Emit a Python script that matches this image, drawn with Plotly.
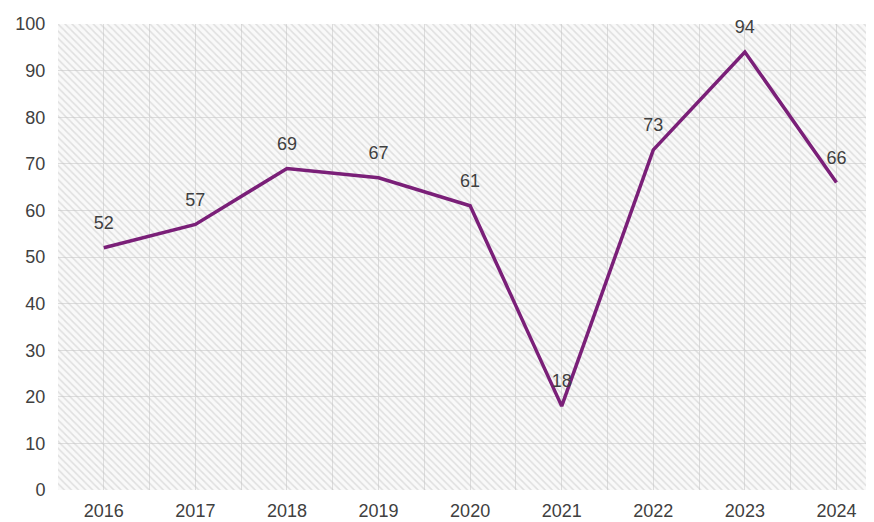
import plotly.graph_objects as go

years = ["2016", "2017", "2018", "2019", "2020", "2021", "2022", "2023", "2024"]
values = [52, 57, 69, 67, 61, 18, 73, 94, 66]
y_ticks = [0, 10, 20, 30, 40, 50, 60, 70, 80, 90, 100]

idx = list(range(len(years)))
x_lo, x_hi = -0.5, len(years) - 0.5
y_lo, y_hi = y_ticks[0], y_ticks[-1]

fig = go.Figure()

# hatched plot-area background (transparent between stripes so gridlines show)
fig.add_trace(go.Scatter(
    x=[x_lo, x_hi, x_hi, x_lo, x_lo], y=[y_lo, y_lo, y_hi, y_hi, y_lo],
    fill="toself", mode="none", hoverinfo="skip", showlegend=False,
    fillcolor="rgba(0,0,0,0)",
    fillpattern=dict(shape="\\", size=5, solidity=0.3,
                     fgcolor="#c6c6c6", fillmode="overlay"),
))

fig.add_trace(go.Scatter(
    x=idx, y=values, mode="lines+markers+text",
    line=dict(color="#7a1f78", width=3.5),
    marker=dict(size=21, opacity=0, color="#7a1f78"),
    text=[str(v) for v in values], textposition="top center",
    textfont=dict(family="Liberation Sans, Arial", size=18, color="#404040"),
    showlegend=False, cliponaxis=False, hoverinfo="x+y",
))

fig.update_layout(
    width=866, height=514,
    margin=dict(l=50, r=0, t=16, b=32),
    paper_bgcolor="white", plot_bgcolor="#f9f9f9",
    font=dict(family="Liberation Sans, Arial", size=18, color="#404040"),
    xaxis=dict(
        range=[-0.5, 8.41], tickmode="array", tickvals=idx, ticktext=years,
        showgrid=True, gridcolor="#dcdcdc", gridwidth=1,
        minor=dict(tickmode="array", tickvals=[i - 0.5 for i in range(10)],
                   showgrid=True, gridcolor="#dcdcdc", gridwidth=1, ticks=""),
        zeroline=False, showline=False, ticks="outside", ticklen=4, tickcolor="white",
        tickfont=dict(size=18, color="#404040"),
    ),
    yaxis=dict(
        range=[0, 100], tickmode="array", tickvals=y_ticks,
        showgrid=True, gridcolor="#dcdcdc", gridwidth=1,
        zeroline=False, showline=False, ticks="outside", ticklen=8, tickcolor="white",
        tickfont=dict(size=18, color="#404040"),
    ),
)

fig.write_html("out.html")
